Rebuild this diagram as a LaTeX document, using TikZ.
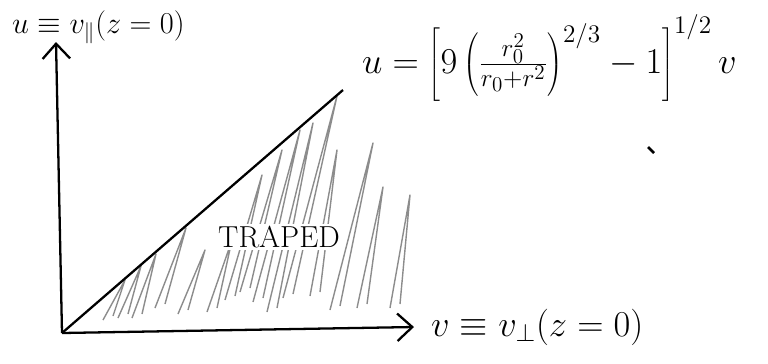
\documentclass[tikz,border=0pt]{standalone}
\usetikzlibrary{positioning,arrows.meta}

\tikzset{
  axis/.style={line width=1.3pt, ->},
  hatch/.style={black!45, line width=0.8pt, line join=round},
  lbl/.style={inner sep=1pt, font=\LARGE},
}

\begin{document}
\begin{tikzpicture}[x=0.02cm, y=-0.02cm, >={Straight Barb[length=3mm,width=5.5mm]}]
  \useasboundingbox (0,0) rectangle (768,363);
  \coordinate (O) at (62,333);
  \coordinate (ytip) at (56,42);
  \coordinate (xtip) at (414,327);
  \coordinate (top) at (343,90);
  % trapped region
  \foreach \bx/\by/\tx/\ty in {103/320/125/280, 118/318/141/266, 132/318/156/254,
      155/308/186/228, 178/314/205/250, 207/312/232/240, 225/300/262/175,
      240/292/282/150, 253/302/300/130, 267/312/313/123, 283/298/337/96,
      310/296/337/150, 330/310/373/143, 357/308/383/187, 390/308/410/195}
    \draw[hatch] (\bx,\by) -- (\tx,\ty) -- (\bx+10,\by-4);
  \draw[axis] (O) -- (ytip);
  \draw[axis] (O) -- (xtip);
  \draw[line width=1.3pt] (O) -- (top);
  \node[lbl, fill=white] (trap) at (279,237) {TRAPED};
  \node[lbl, anchor=west] (ulab) at (10,27) {$u \equiv v_{\parallel}(z=0)$};
  \node[lbl, font=\huge, right=0.3cm of xtip] (vlab) {$v \equiv v_{\perp}(z=0)$};
  \node[lbl, font=\huge, anchor=west] (bound) at (360,58)
    {$u=\left[9\left(\frac{r_0^2}{r_0+r^2}\right)^{2/3}-1\right]^{1/2} v$};
  \draw[line width=1.5pt] (648,147) -- (654,153);
\end{tikzpicture}
\end{document}
